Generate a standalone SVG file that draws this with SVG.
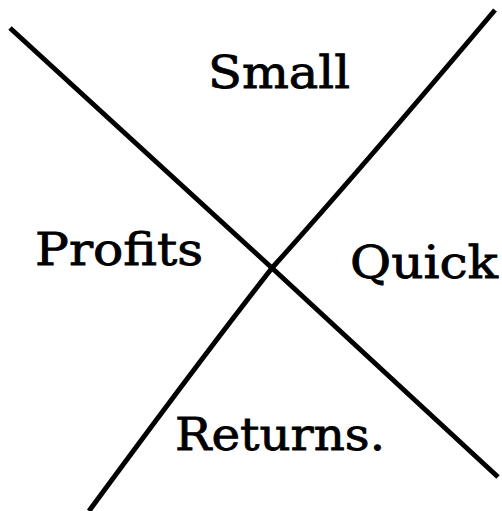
<svg xmlns="http://www.w3.org/2000/svg" width="502" height="511" viewBox="0 0 502 511">
<style>
.ln{fill:none;stroke:#000;stroke-width:5;stroke-linecap:butt;stroke-linejoin:round}
.t{font-family:"DejaVu Serif","Liberation Serif",serif;font-size:44px;fill:#000;stroke:#000;stroke-width:0.8}
</style>
<rect width="502" height="511" fill="#fff"/>
<g id="connectors">
<path class="ln" d="M10,28 L272,268 L498,477"/>
<path class="ln" d="M495,10 Q360,170 272,268 Q200,360 89,511"/>
</g>
<g id="small"><text class="t" x="208" y="88" textLength="142" lengthAdjust="spacingAndGlyphs">Small</text></g>
<g id="profits"><text class="t" x="35" y="265" textLength="168" lengthAdjust="spacingAndGlyphs">Profits</text></g>
<g id="quick"><text class="t" x="350" y="278" textLength="148" lengthAdjust="spacingAndGlyphs">Quick</text></g>
<g id="returns"><text class="t" x="175" y="450" textLength="210" lengthAdjust="spacingAndGlyphs">Returns.</text></g>
</svg>
